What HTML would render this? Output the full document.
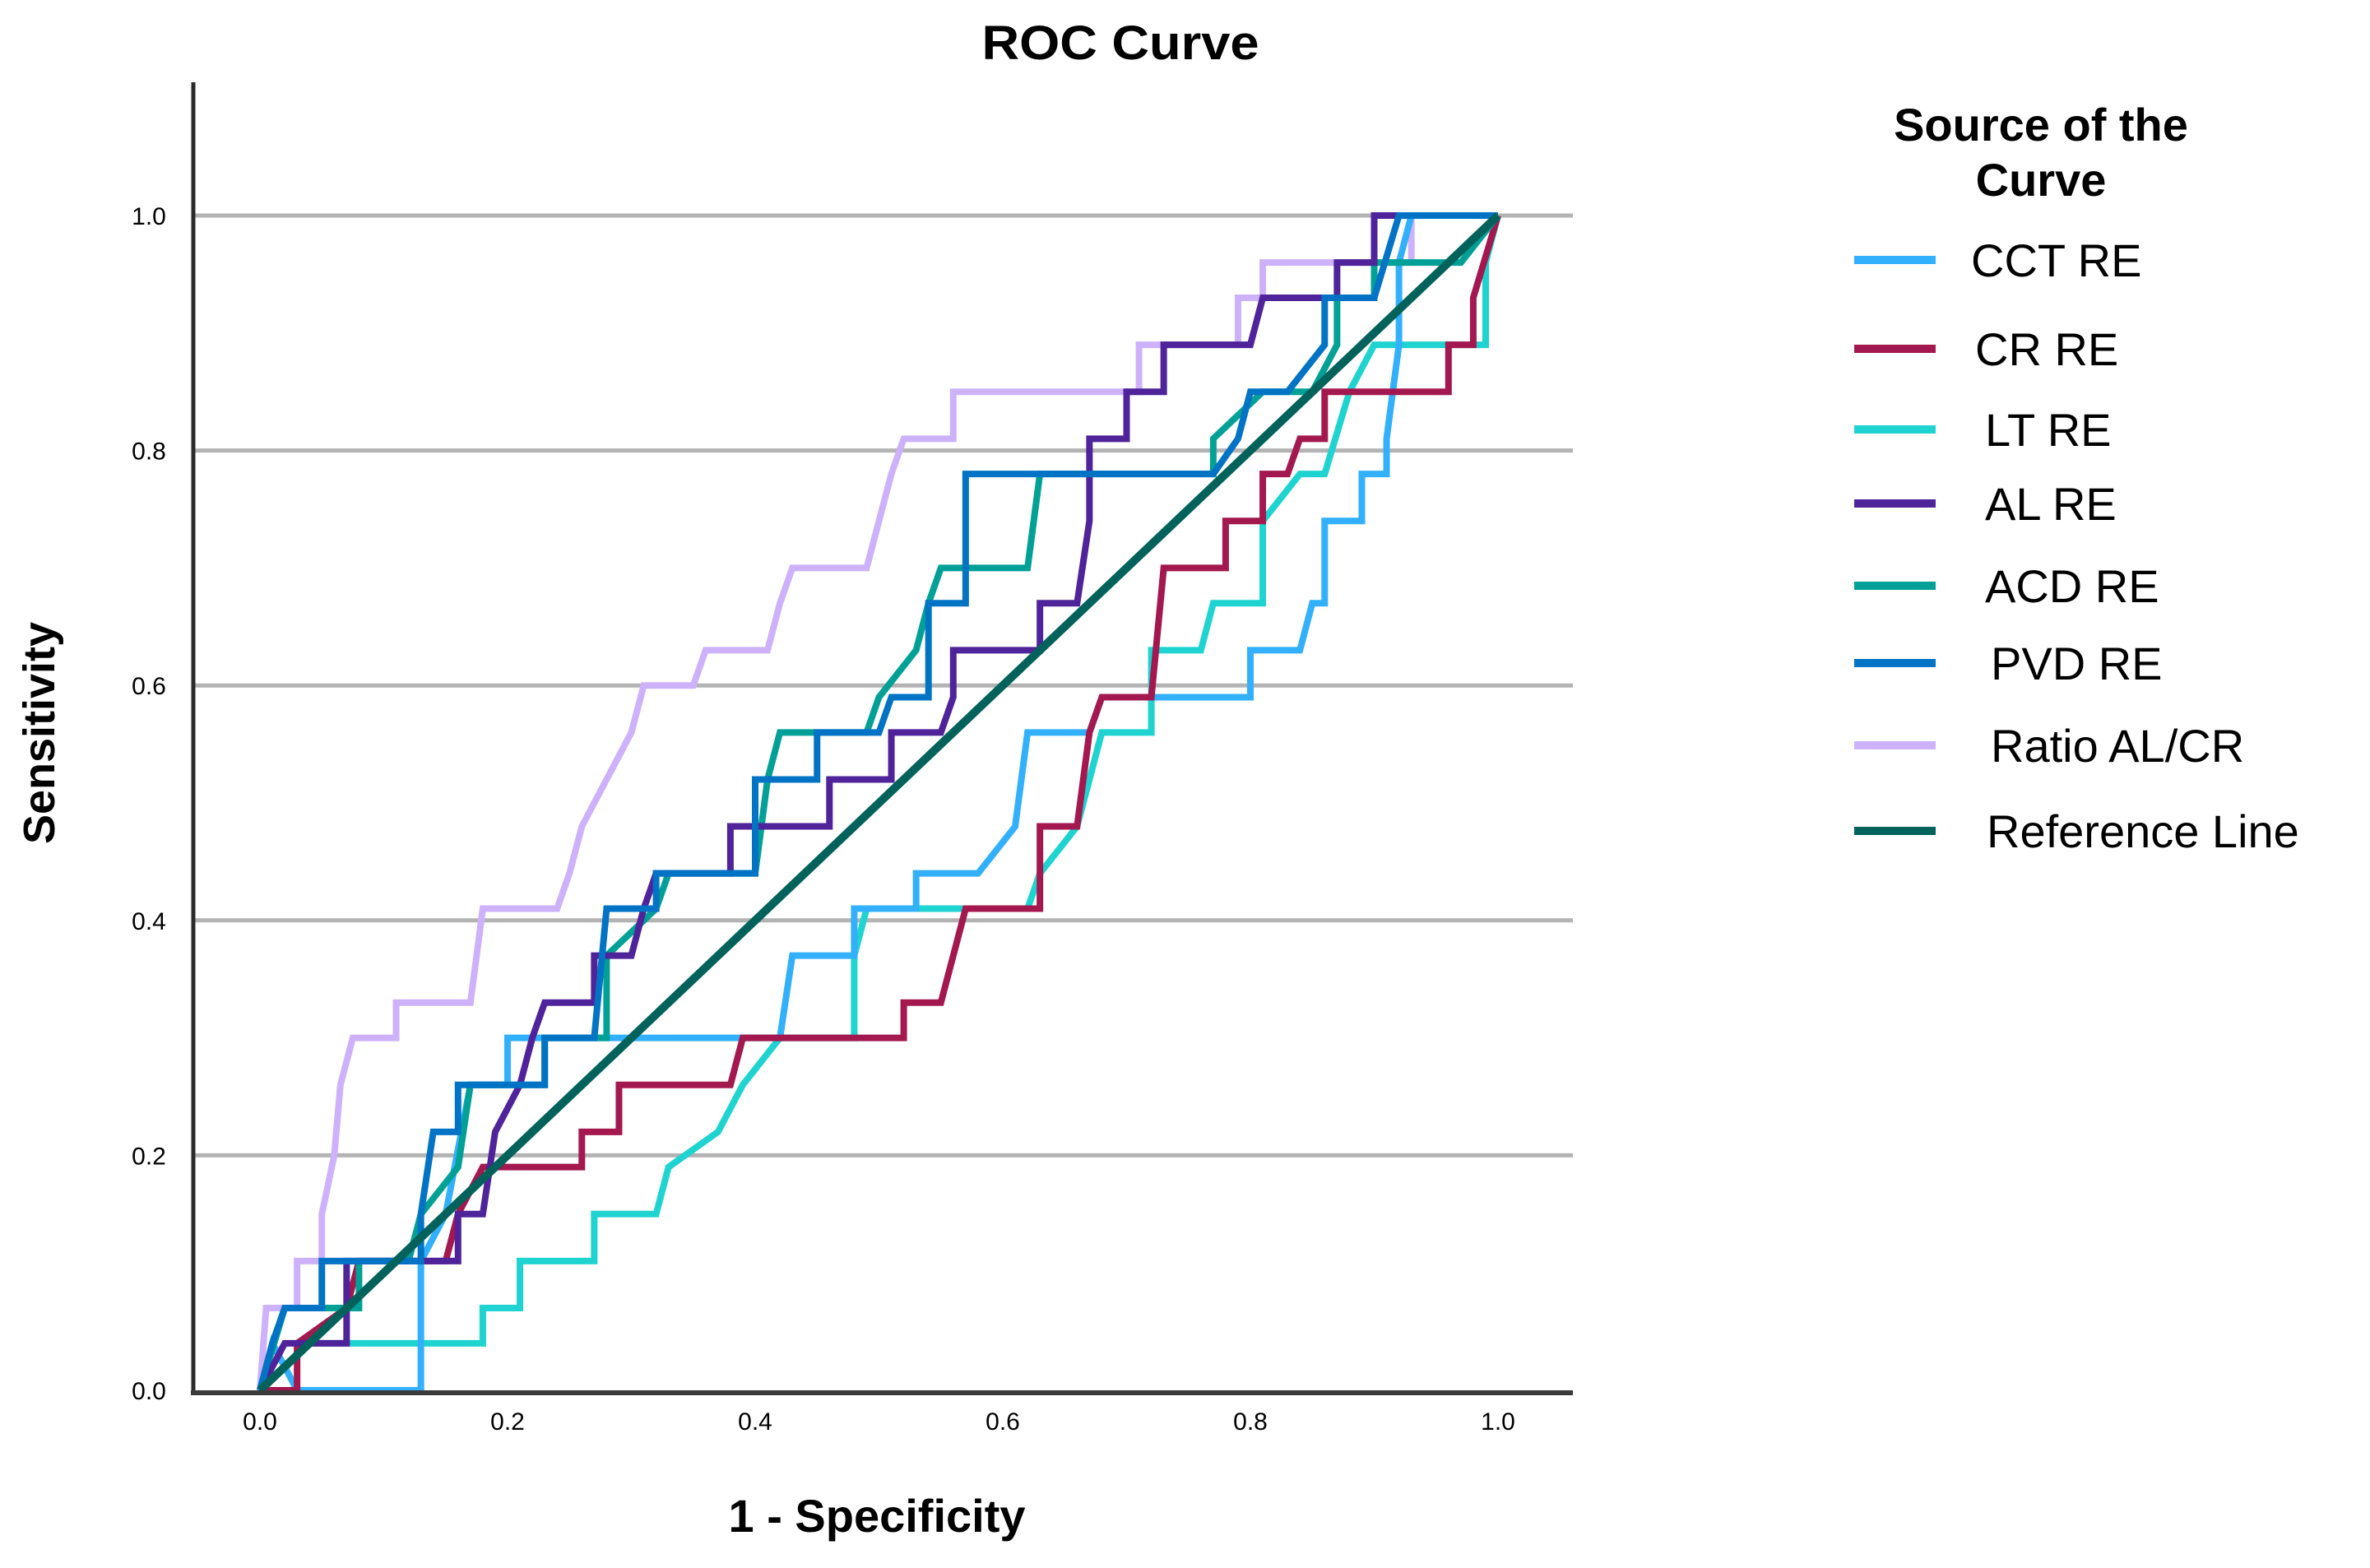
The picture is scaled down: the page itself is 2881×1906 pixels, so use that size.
<!DOCTYPE html>
<html><head><meta charset="utf-8"><style>
html,body{margin:0;padding:0;background:#fff;}
svg{display:block;font-family:"Liberation Sans",sans-serif;}
</style></head><body>
<svg id="chart" width="2881" height="1906" viewBox="0 0 2881 1906">
<text x="1362" y="72" font-size="58" font-weight="bold" text-anchor="middle" textLength="337" lengthAdjust="spacingAndGlyphs">ROC Curve</text>
<g id="grid"></g>
<g id="series"></g>
<line x1="235" y1="100" x2="235" y2="1695" stroke="#2a2a2a" stroke-width="5"/>
<line x1="232" y1="1693" x2="1912" y2="1693" stroke="#3a3a3a" stroke-width="6"/>
<g id="ticks"></g>
<text x="1066" y="1862" font-size="56" font-weight="bold" text-anchor="middle">1 - Specificity</text>
<text transform="translate(66,891) rotate(-90)" font-size="54" font-weight="bold" text-anchor="middle">Sensitivity</text>
<g>
<text x="2481" y="171" font-size="56" font-weight="bold" text-anchor="middle">Source of the</text>
<text x="2481" y="238" font-size="56" font-weight="bold" text-anchor="middle">Curve</text>
<g id="legend-items"></g>
</g>
</svg>
<script>
const X0=316,X1=1821,Y0=1690,Y1=262;
function sx(v){return X0+(X1-X0)*v;}
function sy(v){return Y0-(Y0-Y1)*v;}
const yTicks=[0.0,0.2,0.4,0.6,0.8,1.0];
const xTicks=[0.0,0.2,0.4,0.6,0.8,1.0];
const seriesNames=["CCT RE","CR RE","LT RE","AL RE","ACD RE","PVD RE","Ratio AL/CR","Reference Line"];
const seriesColors=["#33b0fc","#a3184f","#1fd3d0","#4f2399","#00a097","#0073c4","#cdb2fb","#00625a"];
const cctRE=[[0,0],[0.01,0.04],[0.03,0],[0.13,0],[0.13,0.11],[0.15,0.15],[0.17,0.26],[0.2,0.26],[0.2,0.3],[0.42,0.3],[0.43,0.37],[0.48,0.37],[0.48,0.41],[0.53,0.41],[0.53,0.44],[0.58,0.44],[0.61,0.48],[0.62,0.56],[0.67,0.56],[0.68,0.59],[0.8,0.59],[0.8,0.63],[0.84,0.63],[0.85,0.67],[0.86,0.67],[0.86,0.74],[0.89,0.74],[0.89,0.78],[0.91,0.78],[0.91,0.81],[0.92,0.89],[0.92,0.96],[0.93,1],[1,1]];
const crRE=[[0,0],[0.03,0],[0.03,0.04],[0.07,0.07],[0.08,0.11],[0.15,0.11],[0.16,0.15],[0.18,0.19],[0.26,0.19],[0.26,0.22],[0.29,0.22],[0.29,0.26],[0.38,0.26],[0.39,0.3],[0.52,0.3],[0.52,0.33],[0.55,0.33],[0.56,0.37],[0.57,0.41],[0.63,0.41],[0.63,0.48],[0.66,0.48],[0.67,0.56],[0.68,0.59],[0.72,0.59],[0.73,0.7],[0.78,0.7],[0.78,0.74],[0.81,0.74],[0.81,0.78],[0.83,0.78],[0.84,0.81],[0.86,0.81],[0.86,0.85],[0.96,0.85],[0.96,0.89],[0.98,0.89],[0.98,0.93],[1,1]];
const ltRE=[[0,0],[0.04,0.04],[0.18,0.04],[0.18,0.07],[0.21,0.07],[0.21,0.11],[0.27,0.11],[0.27,0.15],[0.32,0.15],[0.33,0.19],[0.37,0.22],[0.39,0.26],[0.42,0.3],[0.48,0.3],[0.48,0.37],[0.49,0.41],[0.62,0.41],[0.63,0.44],[0.66,0.48],[0.67,0.52],[0.68,0.56],[0.72,0.56],[0.72,0.63],[0.76,0.63],[0.77,0.67],[0.81,0.67],[0.81,0.74],[0.84,0.78],[0.86,0.78],[0.88,0.85],[0.9,0.89],[0.99,0.89],[0.99,0.96],[1,1]];
const alRE=[[0,0],[0.02,0.04],[0.07,0.04],[0.07,0.11],[0.16,0.11],[0.16,0.15],[0.18,0.15],[0.19,0.22],[0.21,0.26],[0.22,0.3],[0.23,0.33],[0.27,0.33],[0.27,0.37],[0.3,0.37],[0.31,0.41],[0.32,0.44],[0.38,0.44],[0.38,0.48],[0.46,0.48],[0.46,0.52],[0.51,0.52],[0.51,0.56],[0.55,0.56],[0.56,0.59],[0.56,0.63],[0.63,0.63],[0.63,0.67],[0.66,0.67],[0.67,0.74],[0.67,0.81],[0.7,0.81],[0.7,0.85],[0.73,0.85],[0.73,0.89],[0.8,0.89],[0.81,0.93],[0.87,0.93],[0.87,0.96],[0.9,0.96],[0.9,1],[1,1]];
const acdRE=[[0,0],[0.02,0.07],[0.08,0.07],[0.08,0.11],[0.12,0.11],[0.13,0.15],[0.16,0.19],[0.17,0.26],[0.23,0.26],[0.23,0.3],[0.28,0.3],[0.28,0.37],[0.32,0.41],[0.33,0.44],[0.4,0.44],[0.41,0.52],[0.42,0.56],[0.49,0.56],[0.5,0.59],[0.53,0.63],[0.54,0.67],[0.55,0.7],[0.62,0.7],[0.63,0.78],[0.77,0.78],[0.77,0.81],[0.81,0.85],[0.85,0.85],[0.87,0.89],[0.87,0.93],[0.9,0.93],[0.9,0.96],[0.97,0.96],[1,1]];
const pvdRE=[[0,0],[0.01,0.04],[0.02,0.07],[0.05,0.07],[0.05,0.11],[0.13,0.11],[0.13,0.15],[0.14,0.22],[0.16,0.22],[0.16,0.26],[0.23,0.26],[0.23,0.3],[0.27,0.3],[0.28,0.41],[0.32,0.41],[0.32,0.44],[0.4,0.44],[0.4,0.52],[0.45,0.52],[0.45,0.56],[0.5,0.56],[0.51,0.59],[0.54,0.59],[0.54,0.67],[0.57,0.67],[0.57,0.78],[0.77,0.78],[0.79,0.81],[0.8,0.85],[0.83,0.85],[0.86,0.89],[0.86,0.93],[0.9,0.93],[0.92,1],[1,1]];
const ratioALCR=[[0,0],[0.005,0.07],[0.03,0.07],[0.03,0.11],[0.05,0.11],[0.05,0.15],[0.06,0.2],[0.065,0.26],[0.075,0.3],[0.11,0.3],[0.11,0.33],[0.17,0.33],[0.18,0.41],[0.24,0.41],[0.25,0.44],[0.26,0.48],[0.28,0.52],[0.3,0.56],[0.31,0.6],[0.35,0.6],[0.36,0.63],[0.41,0.63],[0.42,0.67],[0.43,0.7],[0.49,0.7],[0.5,0.74],[0.51,0.78],[0.52,0.81],[0.56,0.81],[0.56,0.85],[0.71,0.85],[0.71,0.89],[0.79,0.89],[0.79,0.93],[0.81,0.93],[0.81,0.96],[0.93,0.96],[0.93,1],[1,1]];
const referenceLine=[[0,0],[1,1]];
const allSeries=[cctRE,crRE,ltRE,alRE,acdRE,pvdRE,ratioALCR,referenceLine];
const drawOrder=[6,2,0,1,4,3,5,7];
const NS="http://www.w3.org/2000/svg";
const grid=document.getElementById('grid');
yTicks.forEach(function(t){
  if(t===0) return;
  const l=document.createElementNS(NS,'line');
  l.setAttribute('x1',237);l.setAttribute('x2',1912);
  l.setAttribute('y1',sy(t));l.setAttribute('y2',sy(t));
  l.setAttribute('stroke','#b3b3b3');l.setAttribute('stroke-width',5);
  
  
  grid.appendChild(l);
});
const ticks=document.getElementById('ticks');
yTicks.forEach(function(t){
  const tx=document.createElementNS(NS,'text');
  tx.setAttribute('x',181);tx.setAttribute('y',sy(t)+11);
  tx.setAttribute('font-size',30);tx.setAttribute('text-anchor','middle');
  tx.textContent=t.toFixed(1);
  
  
  ticks.appendChild(tx);
});
xTicks.forEach(function(t){
  const tx=document.createElementNS(NS,'text');
  tx.setAttribute('x',sx(t));tx.setAttribute('y',1738);
  tx.setAttribute('font-size',30);tx.setAttribute('text-anchor','middle');
  tx.textContent=t.toFixed(1);
  
  
  ticks.appendChild(tx);
});
const sg=document.getElementById('series');
drawOrder.forEach(function(i){
  const p=document.createElementNS(NS,'polyline');
  p.setAttribute('points',allSeries[i].map(function(d){return sx(d[0])+','+sy(d[1]);}).join(' '));
  p.setAttribute('fill','none');
  p.setAttribute('stroke',seriesColors[i]);
  p.setAttribute('stroke-width',i===7?10:8);
  p.setAttribute('stroke-linejoin','miter');
  
  
  sg.appendChild(p);
});
const legendY=[316,424,522,612,712,806,906,1010];
const legendTextX=[2396,2401,2413,2413,2413,2420,2420,2415];
const li=document.getElementById('legend-items');
seriesNames.forEach(function(n,i){
  const l=document.createElementNS(NS,'line');
  l.setAttribute('x1',2254);l.setAttribute('x2',2353);
  l.setAttribute('y1',legendY[i]);l.setAttribute('y2',legendY[i]);
  l.setAttribute('stroke',seriesColors[i]);l.setAttribute('stroke-width',10);
  
  
  li.appendChild(l);
  const t=document.createElementNS(NS,'text');
  t.setAttribute('x',legendTextX[i]);t.setAttribute('y',legendY[i]+20);
  t.setAttribute('font-size',56);
  t.textContent=n;
  
  
  li.appendChild(t);
});
</script>
</body></html>
